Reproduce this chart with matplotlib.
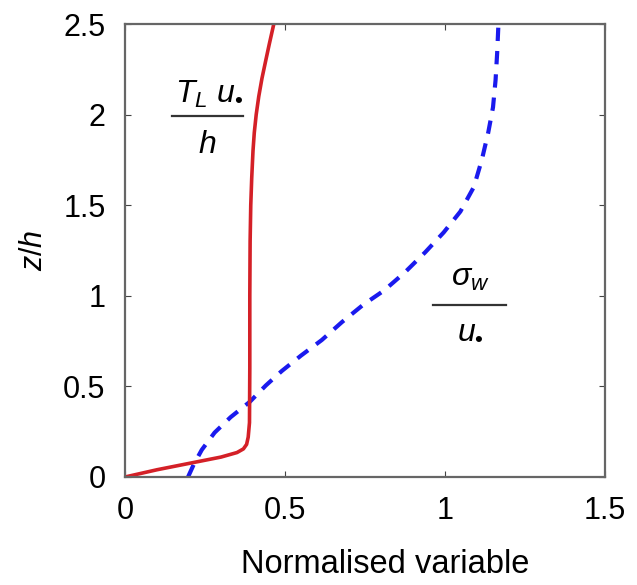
import matplotlib
matplotlib.use('Agg')
import matplotlib.pyplot as plt
from matplotlib.lines import Line2D

plt.rcParams['font.family'] = ['Liberation Sans', 'DejaVu Sans']
plt.rcParams['mathtext.fontset'] = 'custom'
plt.rcParams['mathtext.it'] = 'Liberation Sans:italic'
plt.rcParams['mathtext.rm'] = 'Liberation Sans'

# Lagrangian time scale profile, T_L u* / h against z/h
tl_x = [0.0, 0.05, 0.10, 0.20, 0.30, 0.35, 0.37, 0.38, 0.385, 0.389, 0.39, 0.39,
        0.391, 0.393, 0.396, 0.40, 0.404, 0.41, 0.418, 0.428, 0.44, 0.451, 0.465]
tl_z = [0.0, 0.02, 0.04, 0.075, 0.11, 0.135, 0.155, 0.18, 0.22, 0.30, 0.60, 1.00,
        1.30, 1.50, 1.65, 1.80, 1.90, 2.00, 2.10, 2.20, 2.30, 2.39, 2.50]

# vertical velocity std profile, sigma_w / u* against z/h
sw_x = [0.197, 0.215, 0.24, 0.28, 0.33, 0.39, 0.44, 0.49, 0.55, 0.615,
        0.678, 0.744, 0.81, 0.875, 0.938, 0.996, 1.048, 1.09, 1.115, 1.135,
        1.15, 1.158, 1.163, 1.167]
sw_z = [0.0, 0.07, 0.15, 0.245, 0.33, 0.415, 0.505, 0.585, 0.67, 0.756,
        0.855, 0.95, 1.03, 1.13, 1.24, 1.35, 1.465, 1.60, 1.75, 1.90,
        2.04, 2.19, 2.34, 2.50]

xticks = [0, 0.5, 1, 1.5]
yticks = [0, 0.5, 1, 1.5, 2, 2.5]

fig = plt.figure(figsize=(6.37, 5.85), dpi=100)
ax = fig.add_axes([125 / 637, 108 / 585, 480 / 637, 453 / 585])

ax.plot(sw_x, sw_z, color='#1a1aee', lw=3.0, dashes=(3.2, 2.4), solid_capstyle='butt')
ax.plot(tl_x, tl_z, color='#d42027', lw=2.6)

ax.set_xlim(0, 1.5)
ax.set_ylim(0, 2.5)
ax.set_xticks(xticks)
ax.set_xticklabels(['0', '0.5', '1', '1.5'])
ax.set_yticks(yticks)
ax.set_yticklabels(['0', '0.5', '1', '1.5', '2', '2.5'])
ax.tick_params(axis='both', direction='in', length=4, width=0.8, color='#444444',
               labelsize=22, top=True, right=True)
ax.tick_params(axis='x', pad=14)
ax.tick_params(axis='y', pad=14)
for s in ax.spines.values():
    s.set_color('#666666')
    s.set_linewidth(1.6)

ax.set_xlabel('Normalised variable', fontsize=23.5)
ax.xaxis.set_label_coords(0.542, -0.158)
ax.set_ylabel('$z/h$', fontsize=22, labelpad=10)

# fraction labels beside each curve
ax.text(0.262, 2.11, '$T_L\\ u_{•}$', fontsize=23, ha='center', va='center')
ax.add_line(Line2D([0.147, 0.369], [1.99, 1.99], color='#333333', lw=1.6))
ax.text(0.258, 1.83, r'$h$', fontsize=23, ha='center', va='center')

ax.text(1.08, 1.10, r'$\sigma_w$', fontsize=23, ha='center', va='center')
ax.add_line(Line2D([0.963, 1.19], [0.95, 0.95], color='#333333', lw=1.6))
ax.text(1.08, 0.81, '$u_{•}$', fontsize=23, ha='center', va='center')

fig.savefig('out.png', dpi=100)
